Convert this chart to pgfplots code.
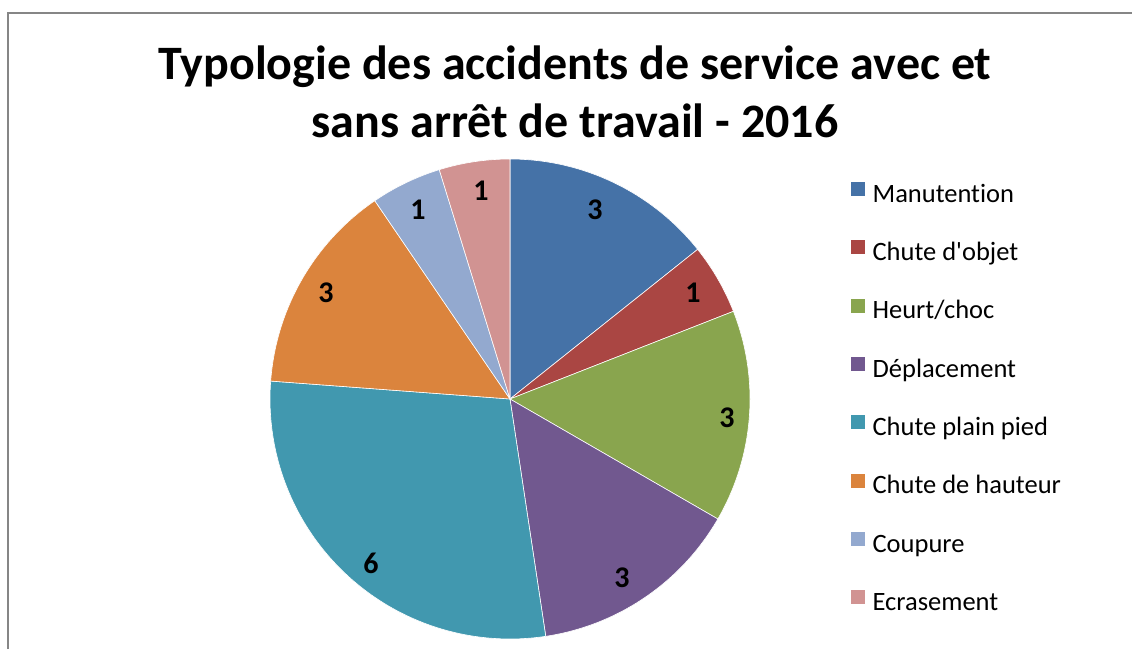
\documentclass[border=0pt]{standalone}
\usepackage{fontspec}
\setmainfont{Carlito}[Ligatures={NoCommon}]
\usepackage{pgfplots}
\pgfplotsset{compat=1.18}
\definecolor{c1}{HTML}{4572A7}
\definecolor{c2}{HTML}{AA4643}
\definecolor{c3}{HTML}{89A54E}
\definecolor{c4}{HTML}{71588F}
\definecolor{c5}{HTML}{4198AF}
\definecolor{c6}{HTML}{DB843D}
\definecolor{c7}{HTML}{93A9CF}
\definecolor{c8}{HTML}{D19392}
\definecolor{framegray}{HTML}{868686}
% #1 colour, #2 cumulative count before slice, #3 slice value (total 21)
\newcommand{\slice}[3]{%
  \addplot[fill=#1, draw=white, line width=0.6pt,
    domain={90-360*(#2+#3)/21}:{90-360*#2/21}, samples=80]
  ({510+240*cos(x)},{250+240*sin(x)}) -- (axis cs:510,250) -- cycle;
}
\newcommand{\lab}{\fontsize{30}{36}\selectfont\bfseries}
\begin{document}
\begin{tikzpicture}
\useasboundingbox (0,0) rectangle (1132pt,649pt);
\begin{axis}[
  at={(0,0)}, anchor=south west,
  scale only axis, width=1132pt, height=649pt,
  xmin=0, xmax=1132, ymin=0, ymax=649,
  hide axis, clip=false,
  legend style={at={(axis cs:850,468)}, anchor=north west, draw=none, fill=none,
    inner sep=0pt, outer sep=0pt, row sep=31pt, column sep=7pt,
    font=\fontsize{26.5}{31}\selectfont,
    nodes={inner sep=0pt, outer sep=0pt, text height=18pt, text depth=6pt}},
  legend cell align=left,
  legend image code/.code={\fill (0pt,0pt) rectangle (15pt,15pt);},
]
\slice{c1}{0}{3}
\addlegendentry{Manutention}
\slice{c2}{3}{1}
\addlegendentry{Chute d\textquotesingle objet}
\slice{c3}{4}{3}
\addlegendentry{Heurt/choc}
\slice{c4}{7}{3}
\addlegendentry{Déplacement}
\slice{c5}{10}{6}
\addlegendentry{Chute plain pied}
\slice{c6}{16}{3}
\addlegendentry{Chute de hauteur}
\slice{c7}{19}{1}
\addlegendentry{Coupure}
\slice{c8}{20}{1}
\addlegendentry{Ecrasement}
% data labels
\node[font=\lab, inner sep=0pt] at (axis cs:595,439) {3};
\node[font=\lab, inner sep=0pt] at (axis cs:693,356) {1};
\node[font=\lab, inner sep=0pt] at (axis cs:727,231) {3};
\node[font=\lab, inner sep=0pt] at (axis cs:622,71) {3};
\node[font=\lab, inner sep=0pt] at (axis cs:371,86) {6};
\node[font=\lab, inner sep=0pt] at (axis cs:326,356) {3};
\node[font=\lab, inner sep=0pt] at (axis cs:418,439) {1};
\node[font=\lab, inner sep=0pt] at (axis cs:481,458) {1};
% title
\node[anchor=base, inner sep=0pt, font=\fontsize{48}{58}\selectfont\bfseries] at (axis cs:575,569) {Typologie des accidents de service avec et};
\node[anchor=base, inner sep=0pt, font=\fontsize{48}{58}\selectfont\bfseries] at (axis cs:575,511) {sans arrêt de travail - 2016};
% chart frame
\draw[framegray, line width=2pt] (axis cs:8,0) -- (axis cs:8,635.5) -- (axis cs:1132,635.5);
\end{axis}
\end{tikzpicture}
\end{document}
